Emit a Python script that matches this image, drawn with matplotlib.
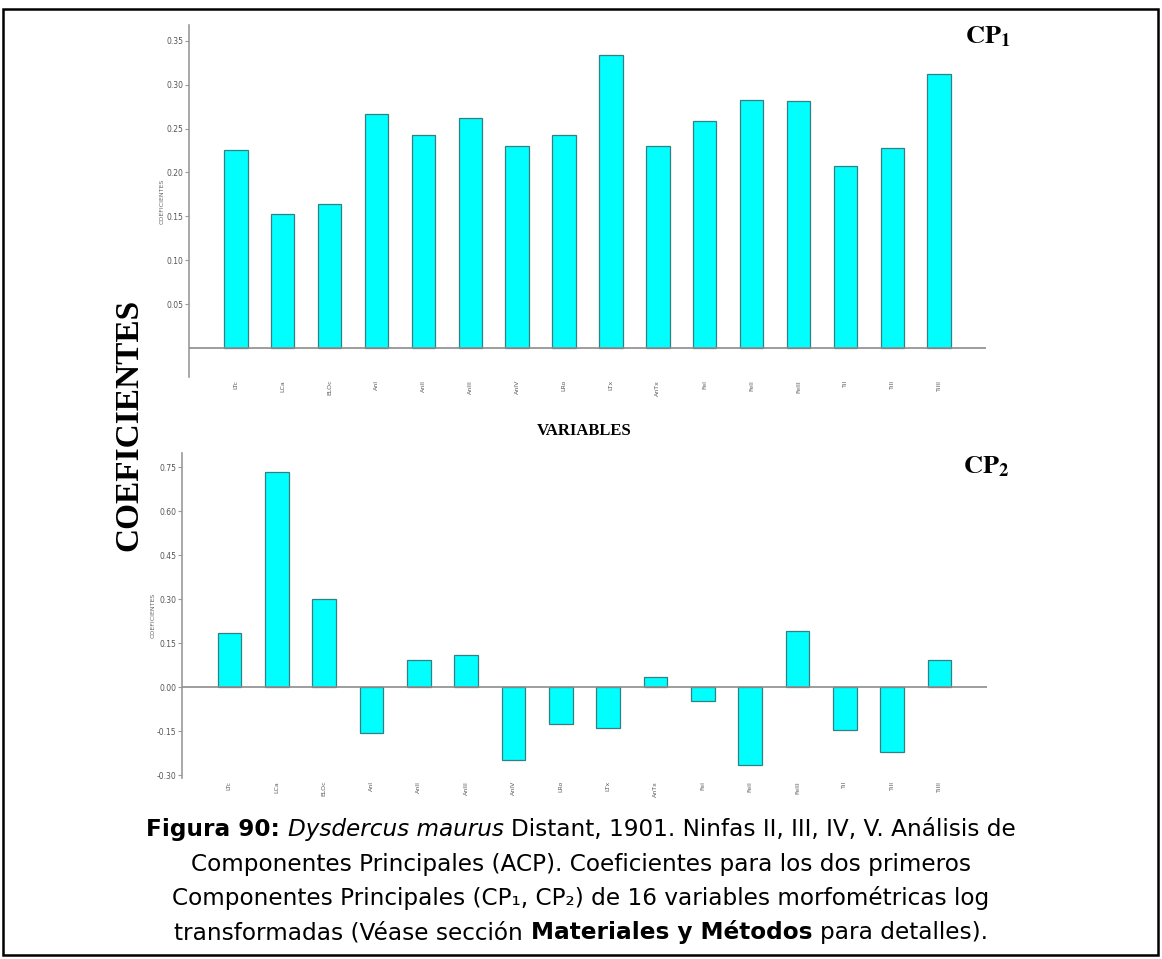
import numpy as np
import matplotlib
matplotlib.use("Agg")
import matplotlib.pyplot as plt
from matplotlib.patches import Rectangle

plt.rcParams["axes.unicode_minus"] = False

# ── data ────────────────────────────────────────────────────────────────────
variables = ["LTc", "LCa", "ELOc", "AnI", "AnII", "AnIII", "AnIV", "LRo",
             "LTx", "AnTx", "FeI", "FeII", "FeIII", "TiI", "TiII", "TiIII"]
cp1 = [0.226, 0.153, 0.164, 0.267, 0.243, 0.262, 0.230, 0.243,
       0.334, 0.230, 0.259, 0.282, 0.281, 0.207, 0.228, 0.312]
cp2 = [0.184, 0.732, 0.301, -0.156, 0.093, 0.110, -0.250, -0.126,
       -0.140, 0.033, -0.046, -0.267, 0.191, -0.146, -0.223, 0.093]
cp1_ticks = [0.05, 0.10, 0.15, 0.20, 0.25, 0.30, 0.35]
cp1_ticklabels = ["0.05", "0.10", "0.15", "0.20", "0.25", "0.30", "0.35"]
cp2_ticks = [-0.30, -0.15, 0.00, 0.15, 0.30, 0.45, 0.60, 0.75]
cp2_ticklabels = ["-0.30", "-0.15", "0.00", "0.15", "0.30", "0.45", "0.60", "0.75"]

# caption: (text, weight, style) pieces, joined by one space
caption = [
    [("Figura 90:", "bold", "normal"), ("Dysdercus maurus", "normal", "italic"),
     ("Distant, 1901. Ninfas II, III, IV, V. Análisis de", "normal", "normal")],
    [("Componentes Principales (ACP). Coeficientes para los dos primeros", "normal", "normal")],
    [("Componentes Principales (CP₁, CP₂) de 16 variables morfométricas log", "normal", "normal")],
    [("transformadas (Véase sección", "normal", "normal"),
     ("Materiales y Métodos", "bold", "normal"),
     ("para detalles).", "normal", "normal")],
]

W, H = 1162, 959
fig = plt.figure(figsize=(W / 100, H / 100), dpi=100)

def fx(px): return px / W
def fy(py): return 1 - py / H

def panel(ax, vals, ticks, ticklabels, ylim):
    x = np.arange(len(variables))
    ax.bar(x, vals, width=0.5, color="#00ffff", edgecolor="#347f80", linewidth=0.9, zorder=2)
    ax.axhline(0, color="#8c8c8c", lw=1.2, zorder=3)
    ax.set_xlim(-1, len(variables))
    ax.set_ylim(*ylim)
    for s in ("top", "right", "bottom"):
        ax.spines[s].set_visible(False)
    ax.spines["left"].set_color("#9a9a9a")
    ax.spines["left"].set_linewidth(1.2)
    ax.set_yticks(ticks, ticklabels)
    ax.set_xticks(x, variables, rotation=90)
    ax.tick_params(axis="x", length=0, pad=2, labelsize=4.5, labelcolor="#5a5a5a")
    ax.tick_params(axis="y", length=3, width=0.8, color="#9a9a9a", pad=1,
                   labelsize=5.5, labelcolor="#555555")
    ax.set_ylabel("COEFICIENTES", fontsize=4.5, color="#666666", labelpad=1)
    ax.patch.set_visible(False)

ax1 = fig.add_axes([fx(189), fy(377), fx(986) - fx(189), fy(25) - fy(377)])
panel(ax1, cp1, cp1_ticks, cp1_ticklabels, (-0.033, 0.368))
ax2 = fig.add_axes([fx(182), fy(778), fx(987) - fx(182), fy(453) - fy(778)])
panel(ax2, cp2, cp2_ticks, cp2_ticklabels, (-0.31, 0.798))

# panel titles and shared labels
fig.text(fx(965), fy(43), r"$\mathbf{CP}_\mathbf{1}$", fontsize=19, math_fontfamily="stix",
         ha="left", va="baseline")
fig.text(fx(963), fy(473), r"$\mathbf{CP}_\mathbf{2}$", fontsize=19, math_fontfamily="stix",
         ha="left", va="baseline")
fig.text(fx(129), fy(425), "COEFICIENTES", family="Liberation Serif", weight="bold",
         fontsize=24, rotation=90, ha="center", va="center")
fig.text(fx(584), fy(431), "VARIABLES", family="Liberation Serif", weight="bold",
         fontsize=12, ha="center", va="center")

# frame round the whole figure
fig.add_artist(Rectangle((fx(3), fy(955)), fx(1158) - fx(3), fy(9) - fy(955),
                         transform=fig.transFigure, fill=False, ec="black", lw=1.8))

# ── caption: mixed bold / italic pieces laid out one after another ──────────
renderer = fig.canvas.get_renderer()

def width_of(s, size, weight, style):
    t = fig.text(0, 0, s, fontsize=size, weight=weight, style=style, family="DejaVu Sans")
    w = t.get_window_extent(renderer).width
    t.remove()
    return w

def line_width(parts, size):
    sp = width_of("a a", size, "normal", "normal") - width_of("aa", size, "normal", "normal")
    ws = [width_of(s, size, w, st) for s, w, st in parts]
    return ws, sp, sum(ws) + sp * (len(parts) - 1)

_, _, w10 = line_width(caption[0], 10)
cap_size = 10 * 868 / w10
line_y = [827, 862, 896, 930]
for parts, py in zip(caption, line_y):
    ws, sp, total = line_width(parts, cap_size)
    x0 = W / 2 - total / 2
    for (s, w, st), wi in zip(parts, ws):
        fig.text(fx(x0), fy(py), s, fontsize=cap_size, weight=w, style=st,
                 family="DejaVu Sans", ha="left", va="center_baseline")
        x0 += wi + sp

fig.savefig("out.png", dpi=100)
